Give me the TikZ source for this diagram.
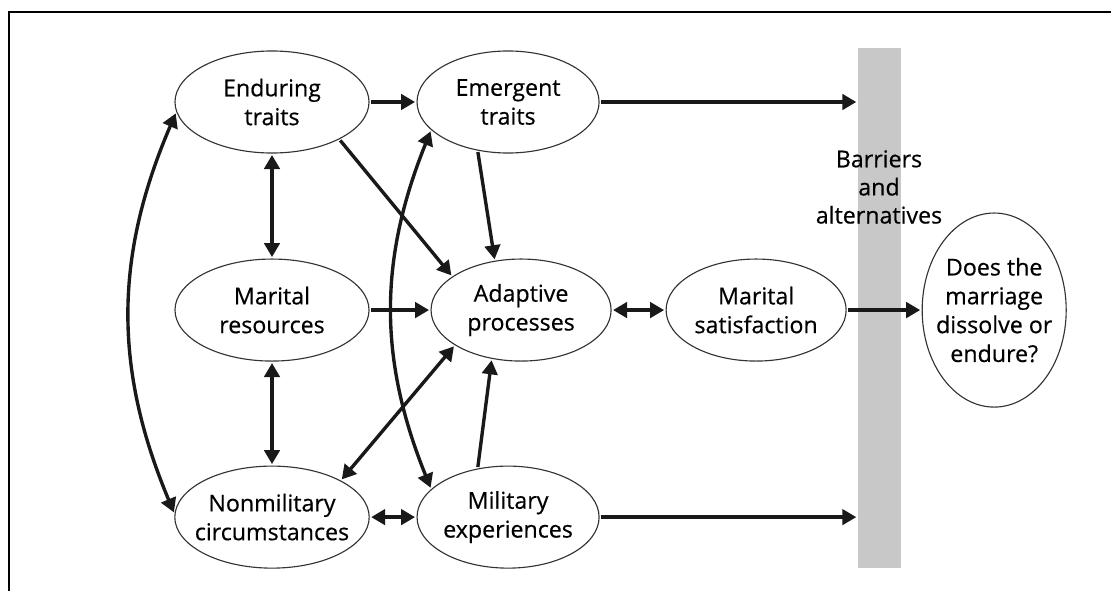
\documentclass[tikz,border=0pt]{standalone}
\usepackage{fontspec}
\setmainfont{Open Sans}[FakeBold=0.5]
\usetikzlibrary{shapes.geometric,arrows.meta,positioning}
\definecolor{barfill}{RGB}{200,200,200}

\begin{document}
\begin{tikzpicture}[x=0.025cm,y=-0.025cm,
			factor/.style={ellipse,draw=black!80,line width=0.8pt,fill=white,inner xsep=-6pt,inner ysep=0pt,
				minimum height=2.55cm,align=center,font=\fontsize{16.5}{20.5}\selectfont},
			link/.style={-{Triangle[length=10pt,width=11pt]},line width=2.4pt,black!90},
			twoway/.style={{Triangle[length=10pt,width=11pt]}-{Triangle[length=10pt,width=11pt]},line width=2.4pt,black!90},
			shorten >=1pt,shorten <=1pt]
			\useasboundingbox (0,0) rectangle (1112,592);
			\draw[line width=1.4pt] (9,592) -- (9,12) -- (1112,12);
			% barrier bar
			\node[fill=barfill,minimum width=1.075cm,minimum height=13cm,inner sep=0pt] (bar) at (879.5,308) {};
			\node[align=center,font=\fontsize{16.5}{20}\selectfont] (barrier) at (879,187) {Barriers\\and\\alternatives};
			% factors
			\node[factor, minimum width=4.85cm] (enduring) at (272,102) {Enduring\\traits};
			\node[factor, minimum width=4.55cm] (emergent) [right of=enduring, node distance=5.9cm] {Emergent\\traits};
			\node[factor, minimum width=4.85cm] (resources) [below of=enduring, node distance=5.2cm] {Marital\\resources};
			\node[factor, minimum width=4.5cm] (adaptive) [right of=resources, node distance=6.225cm] {Adaptive\\processes};
			\node[factor, minimum width=4.5cm] (satisfaction) [right of=adaptive, node distance=5.875cm] {Marital\\satisfaction};
			\node[factor, minimum width=3.6cm, minimum height=4.85cm] (marriage) [right of=satisfaction, node distance=5.95cm] {Does the\\marriage\\dissolve or\\endure?};
			\node[factor, minimum width=4.85cm] (nonmilitary) [below of=resources, node distance=5.175cm] {Nonmilitary\\circumstances};
			\node[factor, minimum width=4.55cm] (military) [right of=nonmilitary, node distance=5.9cm] {Military\\experiences};
			% one way
			\path[link] (enduring) edge (emergent)
				(enduring.-29) edge (adaptive.154)
				(emergent.-122) edge (adaptive.118)
				(resources) edge (adaptive)
				(military.122) edge (adaptive.-121)
				(emergent) edge (emergent -| bar.west)
				(military) edge (military -| bar.west)
				(satisfaction) edge (marriage);
			% two way
			\path[twoway] (enduring) edge (resources)
				(resources) edge (nonmilitary)
				(adaptive.208) edge (nonmilitary.28)
				(adaptive) edge (satisfaction)
				(nonmilitary) edge (military)
				(enduring.186) edge[bend right=23] (nonmilitary.178)
				(emergent.200) edge[bend right=22] (military.160);
		\end{tikzpicture}
\end{document}
